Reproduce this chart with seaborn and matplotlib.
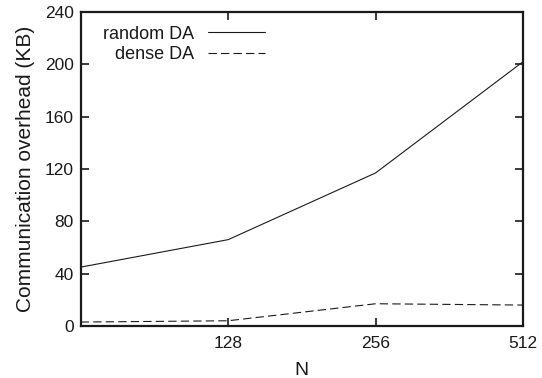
import matplotlib
matplotlib.use("Agg")
import matplotlib.pyplot as plt
import seaborn as sns
import pandas as pd

N = [64, 128, 256, 512]
random_da = [45, 66, 117, 202]
dense_da = [3, 4, 17, 16]
series_names = ["random DA", "dense DA"]
xticks = [128, 256, 512]
yticks = [0, 40, 80, 120, 160, 200, 240]

df = pd.DataFrame({
    "N": N * 2,
    "value": random_da + dense_da,
    "series": [series_names[0]] * len(N) + [series_names[1]] * len(N),
})

sns.set_theme(style="ticks")
plt.rcParams["font.family"] = ["Liberation Sans", "DejaVu Sans"]

fig = plt.figure(figsize=(5.42, 3.78), dpi=100)
ax = fig.add_axes([0.149, 0.1376, 0.816, 0.8306])

sns.lineplot(data=df, x="N", y="value", hue="series", style="series",
             palette=["#1a1a1a", "#1a1a1a"], dashes=["", (7.5, 3.75)],
             linewidth=0.8, ax=ax, legend=True)

ax.set_xscale("log", base=2)
ax.set_xlim(64, 512)
ax.set_ylim(0, 240)
ax.set_xticks(xticks)
ax.set_xticklabels([str(t) for t in xticks])
ax.minorticks_off()
ax.set_yticks(yticks)
ax.tick_params(direction="in", length=6, width=1.2, top=True, right=True,
               labelsize=12.5, colors="#1a1a1a")
ax.tick_params(axis="x", pad=7)
ax.tick_params(axis="y", pad=5)
for s in ax.spines.values():
    s.set_linewidth(1.6)
    s.set_color("#1a1a1a")

ax.set_xlabel("N", fontsize=14, color="#1a1a1a", labelpad=8)
ax.set_ylabel("Communication overhead (KB)", fontsize=15, color="#1a1a1a", labelpad=7)

h, l = ax.get_legend_handles_labels()
leg = ax.legend(h, l, loc="upper left", bbox_to_anchor=(0.02, 1.0), frameon=False,
                markerfirst=False, handlelength=3.15, fontsize=13,
                labelspacing=0.2, handletextpad=0.75, borderaxespad=0.35)
for t in leg.get_texts():
    t.set_color("#1a1a1a")

fig.savefig("out.png", dpi=100)
